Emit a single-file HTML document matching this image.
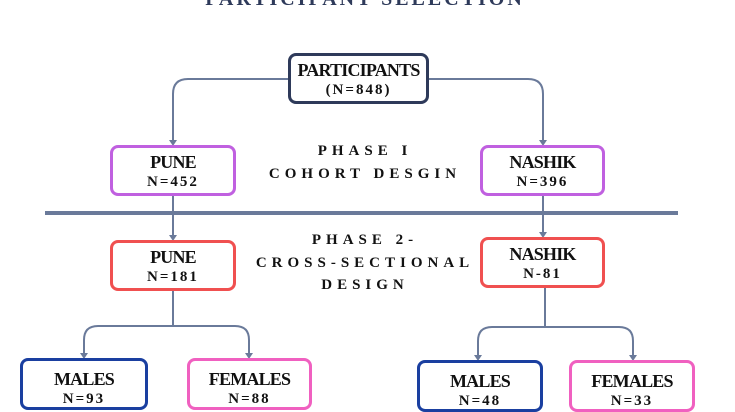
<!DOCTYPE html>
<html><head><style>
body{margin:0;width:735px;height:400px;overflow:hidden;background:#fff;font-family:"Liberation Serif",serif;}
.b{position:absolute;box-sizing:border-box;border-radius:8px;background:#fff;text-align:center;font-weight:bold;color:#111;}
.b .t{font-size:18px;line-height:20px;margin-top:4px;letter-spacing:-0.8px}
.b .n{font-size:15px;line-height:20px;letter-spacing:2px}
.p{position:absolute;font-weight:bold;font-size:15px;letter-spacing:5px;text-align:center;color:#111;}
</style></head><body>
<div class="p" style="left:150px;top:-12px;width:430px;font-size:20px;color:#2e3a5a;letter-spacing:3px">PARTICIPANT SELECTION</div>
<svg width="735" height="400" style="position:absolute;left:0;top:0">
<g fill="none" stroke="#6a7a9a" stroke-width="2">
<path d="M288,79 H188 Q173,79 173,94 V144"/>
<path d="M429,79 H528 Q543,79 543,94 V144"/>
<path d="M173,196 V239"/><path d="M543,196 V236"/>
<path d="M173,291 V326"/><path d="M84,357 V340 Q84,326 98,326 H235 Q249,326 249,340 V357"/>
<path d="M545,288 V327"/><path d="M478,359 V341 Q478,327 492,327 H619 Q633,327 633,341 V359"/>
</g>
<g fill="#6a7a9a">
<path d="M169,140 L177,140 L173,146z"/><path d="M539,140 L547,140 L543,146z"/>
<path d="M169,235 L177,235 L173,241z"/><path d="M539,232 L547,232 L543,238z"/>
<path d="M80,353 L88,353 L84,359z"/><path d="M245,353 L253,353 L249,359z"/>
<path d="M474,355 L482,355 L478,361z"/><path d="M629,355 L637,355 L633,361z"/>
</g>
<rect x="45" y="211" width="633" height="4" fill="#6a7a9a"/>
</svg>
<div class="b" style="left:288px;top:53px;width:141px;height:51px;border:3px solid #2e3a5a"><div class="t">PARTICIPANTS</div><div class="n">(N=848)</div></div>
<div class="b" style="left:110px;top:145px;width:126px;height:51px;border:3px solid #c060e0"><div class="t">PUNE</div><div class="n">N=452</div></div>
<div class="b" style="left:480px;top:145px;width:125px;height:51px;border:3px solid #c060e0"><div class="t">NASHIK</div><div class="n">N=396</div></div>
<div class="p" style="left:265px;top:143px;width:200px">PHASE I</div>
<div class="p" style="left:235px;top:166px;width:260px">COHORT DESGIN</div>
<div class="b" style="left:110px;top:240px;width:126px;height:51px;border:3px solid #f05050"><div class="t">PUNE</div><div class="n">N=181</div></div>
<div class="b" style="left:480px;top:237px;width:125px;height:51px;border:3px solid #f05050"><div class="t">NASHIK</div><div class="n">N-81</div></div>
<div class="p" style="left:235px;top:232px;width:260px">PHASE 2-</div>
<div class="p" style="left:225px;top:255px;width:280px">CROSS-SECTIONAL</div>
<div class="p" style="left:235px;top:277px;width:260px">DESIGN</div>
<div class="b" style="left:20px;top:358px;width:128px;height:52px;border:3px solid #1a3fa0"><div class="t" style="margin-top:8px">MALES</div><div class="n">N=93</div></div>
<div class="b" style="left:187px;top:358px;width:125px;height:52px;border:3px solid #f060c0"><div class="t" style="margin-top:8px">FEMALES</div><div class="n">N=88</div></div>
<div class="b" style="left:417px;top:360px;width:126px;height:52px;border:3px solid #1a3fa0"><div class="t" style="margin-top:8px">MALES</div><div class="n">N=48</div></div>
<div class="b" style="left:569px;top:360px;width:126px;height:52px;border:3px solid #f060c0"><div class="t" style="margin-top:8px">FEMALES</div><div class="n">N=33</div></div>
</body></html>
